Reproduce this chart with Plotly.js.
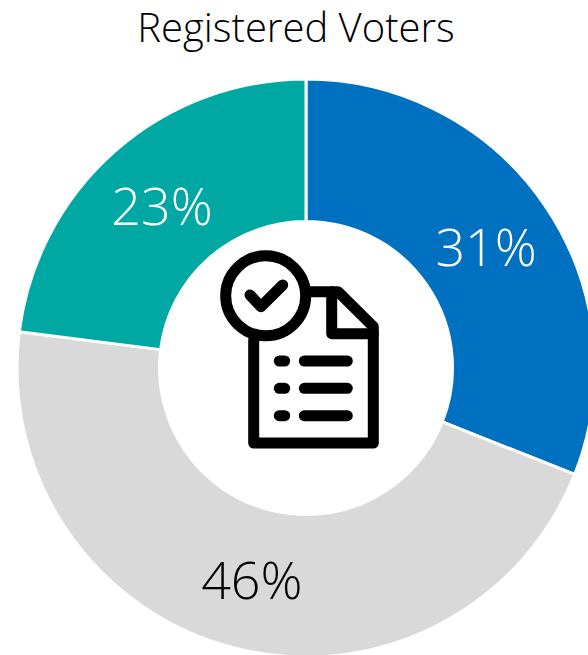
<!DOCTYPE html>
<html>
<head>
<meta charset="utf-8">
<script src="https://cdn.plot.ly/plotly-3.0.1.min.js"></script>
<style>
html,body{margin:0;padding:0;width:588px;height:655px;overflow:hidden;background:#fff}
#chart .shapelayer path{stroke-linecap:round;stroke-linejoin:round}
</style>
</head>
<body>
<div id="chart"></div>
<script>
var categories = ["Group A", "Group B", "Group C"];
var shares = [31, 46, 23];
var sliceColors = ["#0070C0", "#D9D9D9", "#00A8A3"];
var labelColors = ["#FFFFFF", "#000000", "#FFFFFF"];
var chartTitle = "Registered Voters";

var W = 620, H = 680;
var cx = 306, cy = 368, R = 289;
function X(p){ return (p / W).toFixed(5); }
function Y(p){ return (1 - p / H).toFixed(5); }
function P(cmds){
  return cmds.map(function(c){
    return c.length === 1 ? c[0] : c[0] + X(c[1]) + "," + Y(c[2]);
  }).join(" ");
}
function stroke(path, w){
  return {type:"path", xref:"paper", yref:"paper", path:path, line:{color:"#000", width:w}, fillcolor:"rgba(0,0,0,0)", layer:"above"};
}
var shapes = [
  {type:"circle", xref:"paper", yref:"paper", x0:+X(225.7), x1:+X(305.7), y0:+Y(335.8), y1:+Y(255.8),
   line:{color:"#000", width:11}, fillcolor:"#fff", layer:"above"},
  stroke(P([["M",250,295],["L",261,306.7],["L",282.7,285]]), 11),
  stroke(P([["M",253.7,340],["L",253.7,443],["L",373.3,443],["L",373.3,326.7],["L",338,291.7],["L",310,291.7]]), 11),
  stroke(P([["M",331.7,291.7],["L",331.7,333.7],["L",373.3,333.7]]), 11)
];
[361, 388.3, 415.7].forEach(function(y){
  shapes.push(stroke(P([["M",279.3,y],["L",284.7,y]]), 11));
  shapes.push(stroke(P([["M",304.3,y],["L",347.3,y]]), 11));
});

Plotly.newPlot("chart", [{
  type:"pie",
  labels:categories,
  values:shares,
  sort:false,
  direction:"clockwise",
  rotation:0,
  hole:0.507,
  domain:{x:[(cx-R)/W,(cx+R)/W], y:[1-(cy+R)/H,1-(cy-R)/H]},
  marker:{colors:sliceColors, line:{color:"#FFFFFF", width:3}},
  textinfo:"percent",
  textposition:"inside",
  insidetextorientation:"horizontal",
  texttemplate:"%{percent:.0%}",
  textfont:{family:"'Open Sans', sans-serif", size:52, color:labelColors, weight:300},
  hoverinfo:"label+percent"
}], {
  width:W, height:H,
  margin:{l:0,r:0,t:0,b:0},
  showlegend:false,
  paper_bgcolor:"#fff",
  title:{text:chartTitle, x:296/W, xanchor:"center", y:1-28/H, yanchor:"middle",
         font:{family:"'Open Sans', sans-serif", size:40, color:"#000", weight:300}},
  shapes:shapes
}, {displayModeBar:false, responsive:false});
</script>
</body>
</html>
